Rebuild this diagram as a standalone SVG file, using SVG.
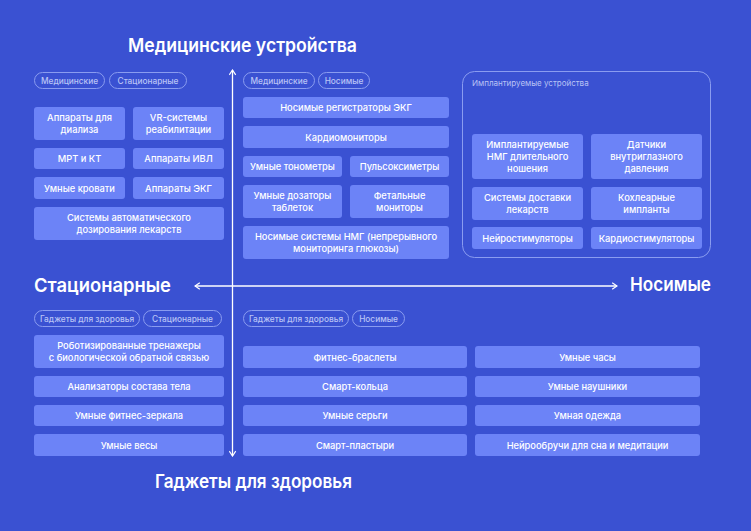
<svg xmlns="http://www.w3.org/2000/svg" width="751" height="531" viewBox="0 0 751 531">
<defs>
<style>
.bg{fill:#3a51d2}
.box{fill:#6c83f7}
.t{font-family:Inter,"Noto Sans",sans-serif;font-size:9.3px;font-weight:500;fill:#ffffff;text-anchor:middle}
.pill{fill:none;stroke:#8a9cf0;stroke-width:1}
.pt{font-family:Inter,"Noto Sans",sans-serif;font-size:8.3px;font-weight:500;fill:#b9c3f5;text-anchor:middle}
.h{font-family:Inter,"Noto Sans",sans-serif;font-size:19px;font-weight:600;fill:#ffffff}
.ax{stroke:#ffffff;stroke-width:1.3;fill:none}
.cont{fill:none;stroke:#8a9cf0;stroke-width:1}
.cl{font-family:Inter,"Noto Sans",sans-serif;font-size:8px;font-weight:400;fill:#b9c3f5}
</style>
<marker id="arr" viewBox="0 0 10 10" refX="9" refY="5" markerWidth="8" markerHeight="8" markerUnits="userSpaceOnUse" orient="auto-start-reverse">
<path d="M3,1 L9,5 L3,9" fill="none" stroke="#ffffff" stroke-width="1.5"/>
</marker>
</defs>
<rect class="bg" x="0" y="0" width="751" height="531"/>

<g id="titles">
<text class="h" x="128" y="52" textLength="229" lengthAdjust="spacingAndGlyphs">Медицинские устройства</text>
<text class="h" x="34" y="292" textLength="137" lengthAdjust="spacingAndGlyphs">Стационарные</text>
<text class="h" x="630" y="291" textLength="81" lengthAdjust="spacingAndGlyphs">Носимые</text>
<text class="h" x="155" y="488" textLength="197" lengthAdjust="spacingAndGlyphs">Гаджеты для здоровья</text>
</g>

<g id="connectors">
<line class="ax" x1="232.5" y1="456" x2="232.5" y2="70" marker-end="url(#arr)" marker-start="url(#arr)"/>
<line class="ax" x1="195" y1="286" x2="617" y2="286" marker-end="url(#arr)" marker-start="url(#arr)"/>
</g>

<g id="tags">
<rect class="pill" x="34.5" y="72.5" width="70" height="16" rx="8"/><text class="pt" x="69.5" y="83.5">Медицинские</text>
<rect class="pill" x="109.5" y="72.5" width="77" height="16" rx="8"/><text class="pt" x="148" y="83.5">Стационарные</text>
<rect class="pill" x="243.5" y="72.5" width="71" height="16" rx="8"/><text class="pt" x="279" y="83.5">Медицинские</text>
<rect class="pill" x="318.5" y="72.5" width="51" height="16" rx="8"/><text class="pt" x="344" y="83.5">Носимые</text>
<rect class="pill" x="34.5" y="310.5" width="105" height="16" rx="8"/><text class="pt" x="87" y="321.5">Гаджеты для здоровья</text>
<rect class="pill" x="143.5" y="310.5" width="78" height="16" rx="8"/><text class="pt" x="182.5" y="321.5">Стационарные</text>
<rect class="pill" x="243.5" y="310.5" width="105" height="16" rx="8"/><text class="pt" x="296" y="321.5">Гаджеты для здоровья</text>
<rect class="pill" x="352.5" y="310.5" width="52" height="16" rx="8"/><text class="pt" x="378.5" y="321.5">Носимые</text>
</g>

<g id="medical-stationary">
<g id="n-dialysis"><rect class="box" x="34" y="107" width="91" height="33" rx="3"/><text class="t" x="79.5" y="121">Аппараты для</text><text class="t" x="79.5" y="133">диализа</text></g>
<g id="n-vr"><rect class="box" x="133" y="107" width="91" height="33" rx="3"/><text class="t" x="178.5" y="121">VR-системы</text><text class="t" x="178.5" y="133">реабилитации</text></g>
<g id="n-mrt"><rect class="box" x="34" y="148" width="91" height="21" rx="3"/><text class="t" x="79.5" y="162">МРТ и КТ</text></g>
<g id="n-ivl"><rect class="box" x="133" y="148" width="91" height="21" rx="3"/><text class="t" x="178.5" y="162">Аппараты ИВЛ</text></g>
<g id="n-beds"><rect class="box" x="34" y="177" width="91" height="22" rx="3"/><text class="t" x="79.5" y="191.5">Умные кровати</text></g>
<g id="n-ecg"><rect class="box" x="133" y="177" width="91" height="22" rx="3"/><text class="t" x="178.5" y="191.5">Аппараты ЭКГ</text></g>
<g id="n-dosing"><rect class="box" x="34" y="207" width="190" height="33" rx="3"/><text class="t" x="129" y="221">Системы автоматического</text><text class="t" x="129" y="233">дозирования лекарств</text></g>
</g>

<g id="medical-wearable">
<g id="n-ecg-reg"><rect class="box" x="243" y="97" width="206" height="21" rx="3"/><text class="t" x="346" y="111">Носимые регистраторы ЭКГ</text></g>
<g id="n-cardiomon"><rect class="box" x="243" y="126" width="206" height="22" rx="3"/><text class="t" x="346" y="140.5">Кардиомониторы</text></g>
<g id="n-tonometer"><rect class="box" x="243" y="156" width="99" height="21" rx="3"/><text class="t" x="292.5" y="170">Умные тонометры</text></g>
<g id="n-pulse"><rect class="box" x="350" y="156" width="99" height="21" rx="3"/><text class="t" x="399.5" y="170">Пульсоксиметры</text></g>
<g id="n-pills"><rect class="box" x="243" y="185" width="99" height="33" rx="3"/><text class="t" x="292.5" y="199">Умные дозаторы</text><text class="t" x="292.5" y="211">таблеток</text></g>
<g id="n-fetal"><rect class="box" x="350" y="185" width="99" height="33" rx="3"/><text class="t" x="399.5" y="199">Фетальные</text><text class="t" x="399.5" y="211">мониторы</text></g>
<g id="n-cgm"><rect class="box" x="243" y="226" width="206" height="33" rx="3"/><text class="t" x="346" y="240">Носимые системы НМГ (непрерывного</text><text class="t" x="346" y="252">мониторинга глюкозы)</text></g>
</g>

<g id="implantable">
<rect class="cont" x="462.5" y="71.5" width="248" height="186" rx="12"/>
<text class="cl" x="472" y="86">Имплантируемые устройства</text>
<g id="n-impl-cgm"><rect class="box" x="472" y="134" width="111" height="45" rx="3"/><text class="t" x="527.5" y="148">Имплантируемые</text><text class="t" x="527.5" y="160">НМГ длительного</text><text class="t" x="527.5" y="172">ношения</text></g>
<g id="n-iop"><rect class="box" x="591" y="134" width="111" height="45" rx="3"/><text class="t" x="646.5" y="148">Датчики</text><text class="t" x="646.5" y="160">внутриглазного</text><text class="t" x="646.5" y="172">давления</text></g>
<g id="n-delivery"><rect class="box" x="472" y="187" width="111" height="33" rx="3"/><text class="t" x="527.5" y="201">Системы доставки</text><text class="t" x="527.5" y="213">лекарств</text></g>
<g id="n-cochlear"><rect class="box" x="591" y="187" width="111" height="33" rx="3"/><text class="t" x="646.5" y="201">Кохлеарные</text><text class="t" x="646.5" y="213">импланты</text></g>
<g id="n-neuro"><rect class="box" x="472" y="227" width="111" height="22" rx="3"/><text class="t" x="527.5" y="241.5">Нейростимуляторы</text></g>
<g id="n-pacemaker"><rect class="box" x="591" y="227" width="111" height="22" rx="3"/><text class="t" x="646.5" y="241.5">Кардиостимуляторы</text></g>
</g>

<g id="gadgets-stationary">
<g id="n-robot"><rect class="box" x="34" y="335" width="190" height="33" rx="3"/><text class="t" x="129" y="349">Роботизированные тренажеры</text><text class="t" x="129" y="361">с биологической обратной связью</text></g>
<g id="n-body"><rect class="box" x="34" y="376" width="190" height="21" rx="3"/><text class="t" x="129" y="390">Анализаторы состава тела</text></g>
<g id="n-mirror"><rect class="box" x="34" y="405" width="190" height="21" rx="3"/><text class="t" x="129" y="419">Умные фитнес-зеркала</text></g>
<g id="n-scales"><rect class="box" x="34" y="434" width="190" height="22" rx="3"/><text class="t" x="129" y="448.5">Умные весы</text></g>
</g>

<g id="gadgets-wearable">
<g id="n-band"><rect class="box" x="243" y="346" width="224" height="22" rx="3"/><text class="t" x="355" y="360.5">Фитнес-браслеты</text></g>
<g id="n-watch"><rect class="box" x="475" y="346" width="225" height="22" rx="3"/><text class="t" x="587.5" y="360.5">Умные часы</text></g>
<g id="n-ring"><rect class="box" x="243" y="376" width="224" height="21" rx="3"/><text class="t" x="355" y="390">Смарт-кольца</text></g>
<g id="n-phones"><rect class="box" x="475" y="376" width="225" height="21" rx="3"/><text class="t" x="587.5" y="390">Умные наушники</text></g>
<g id="n-earrings"><rect class="box" x="243" y="405" width="224" height="21" rx="3"/><text class="t" x="355" y="419">Умные серьги</text></g>
<g id="n-clothes"><rect class="box" x="475" y="405" width="225" height="21" rx="3"/><text class="t" x="587.5" y="419">Умная одежда</text></g>
<g id="n-patch"><rect class="box" x="243" y="434" width="224" height="22" rx="3"/><text class="t" x="355" y="448.5">Смарт-пластыри</text></g>
<g id="n-headband"><rect class="box" x="475" y="434" width="225" height="22" rx="3"/><text class="t" x="587.5" y="448.5">Нейрообручи для сна и медитации</text></g>
</g>
</svg>
